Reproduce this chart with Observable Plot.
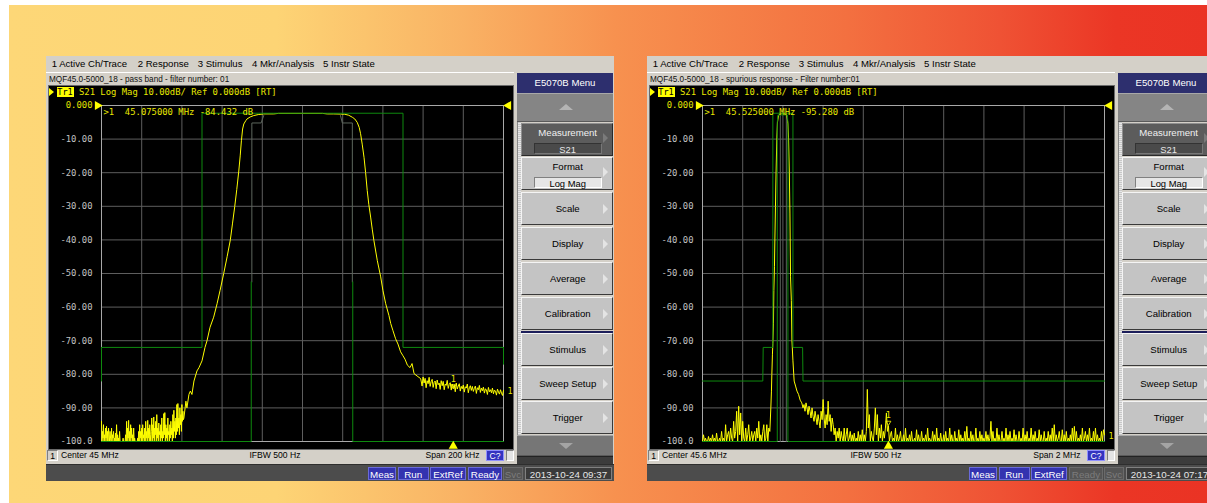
<!DOCTYPE html>
<html><head><meta charset="utf-8">
<script src="https://cdn.jsdelivr.net/npm/d3@7"></script>
<script src="https://cdn.jsdelivr.net/npm/@observablehq/plot@0.6"></script>
<style>
html,body{margin:0;padding:0;background:#fff;width:1207px;height:503px;overflow:hidden;position:relative;font-family:"Liberation Sans",Arial,sans-serif;}
#bg{position:absolute;left:9px;top:5px;width:1198px;height:498px;background:linear-gradient(to right,#FDD777 0px,#FDD475 268px,#F9B264 453px,#F7914F 607px,#F37040 838px,#EF5234 991px,#EB3625 1107px,#EA3324 1198px);}
.panel{position:absolute;top:56px;width:568px;height:425px;background:#D4D0C8;overflow:hidden;color:#000;}
.menubar{position:absolute;left:0;top:0;width:568px;height:16px;font-size:9.6px;line-height:16px;}
.menubar span{position:absolute;top:0;white-space:nowrap;}
.title{position:absolute;left:0;top:16px;width:468px;height:13px;border-top:1px solid #fff;font-size:8.2px;line-height:13px;padding-left:3px;box-sizing:border-box;white-space:nowrap;color:#111;}
.screen{position:absolute;left:3px;top:30px;width:464px;height:363px;background:#000;outline:1px solid #6a6a6a;}
.screen svg{position:absolute;left:0;top:0;}
.hdr{position:absolute;left:0;top:0;height:12px;font-family:"DejaVu Sans Mono",monospace;font-size:8.9px;line-height:12px;color:#e8e800;white-space:pre;}
.hdr .tri{position:absolute;left:0;top:2px;width:0;height:0;border-top:4.5px solid transparent;border-bottom:4.5px solid transparent;border-left:5px solid #ffff00;}
.hdr .tr{position:absolute;left:7.5px;top:1px;width:17px;height:10px;background:#ffff00;color:#000;font-size:8.6px;line-height:10px;text-align:center;}
.hdr .txt{position:absolute;left:30px;top:0;}
.status{position:absolute;left:0;top:393px;width:468px;height:13px;font-size:8.6px;line-height:13px;white-space:nowrap;}
.status span{position:absolute;top:0;}
.status .box{top:1px;height:11px;line-height:11px;border:1px solid #808080;border-right-color:#fff;border-bottom-color:#fff;box-sizing:border-box;text-align:center;}
.status .cq{background:#3434c0;color:#fff;border:1px solid #9090ff;}
.sk-head{position:absolute;left:470.7px;top:17.3px;width:96.6px;height:20px;background:#2d2f6e;color:#fff;font-size:9.6px;line-height:20px;text-align:center;}
.sk-arrow{position:absolute;left:470.7px;width:96.6px;background:#858585;border-top:1px solid #a8a8a8;border-bottom:1px solid #5a5a5a;box-sizing:border-box;}
.sk-arrow i{position:absolute;left:42px;width:0;height:0;border-left:7px solid transparent;border-right:7px solid transparent;}
.sk-strip{position:absolute;left:470.7px;top:65.7px;width:4px;height:334px;background:repeating-linear-gradient(#c8c8c8 0 1px,#e8e8e8 1px 2px);border-left:1px solid #888;box-sizing:border-box;}
.sk{position:absolute;left:474.7px;width:92.6px;height:33px;background:#c4c4c4;border-top:1px solid #f4f4f4;border-left:1px solid #f4f4f4;border-bottom:1px solid #3a3a3a;border-right:1px solid #3a3a3a;box-sizing:border-box;font-size:9.6px;text-align:center;color:#000;}
.sk.sel{background:#5c5c5c;color:#f0f0f0;border-top-color:#909090;border-left-color:#909090;border-bottom-color:#2a2a2a;border-right-color:#2a2a2a;}
.sk .lab{position:absolute;left:0;width:84px;text-align:center;white-space:nowrap;}
.sk .val{position:absolute;left:12px;width:68px;height:11px;top:19px;font-size:9.4px;line-height:11px;border:1px solid #808080;border-bottom-color:#fff;border-right-color:#fff;box-sizing:border-box;}
.sk .ar{position:absolute;right:4px;width:0;height:0;border-top:5px solid transparent;border-bottom:5px solid transparent;border-left:5px solid #e4e4e4;}
.sk.sel .ar{border-left-color:#7a7a7a;}
.sk-sep{position:absolute;left:474.7px;top:275.2px;width:92.6px;height:2px;background:#1c1e5a;}
.sk-dark{position:absolute;left:470.7px;top:400px;width:96.6px;height:8px;background:#3c3c3c;border-top:1px solid #222;box-sizing:border-box;}
.bottombar{position:absolute;left:0;top:408px;width:568px;height:17px;background:#4c4c4c;border-top:1px solid #2e2e2e;box-sizing:border-box;font-size:9.8px;}
.bottombar span{position:absolute;top:2px;height:13px;line-height:13px;text-align:center;box-sizing:border-box;white-space:nowrap;}
.bottombar .on{background:#3333b0;color:#fff;border:1px solid #6a6ad8;}
.bottombar .off{background:#555;color:#7c7c7c;border:1px solid #6a6a6a;}
.bottombar .date{background:#3a3a3a;color:#e6e6e6;border:1px solid #808080;}
</style>
</head><body>
<div id="bg"></div>
<script>
// ---------- shared screen data ----------
const yTicks = [0, -10, -20, -30, -40, -50, -60, -70, -80, -90, -100];
const yTickLabels = ["0.000", "-10.00", "-20.00", "-30.00", "-40.00", "-50.00", "-60.00", "-70.00", "-80.00", "-90.00", "-100.0"];
const menuItems = ["1 Active Ch/Trace", "2 Response", "3 Stimulus", "4 Mkr/Analysis", "5 Instr State"];
const softkeys = ["Measurement", "Format", "Scale", "Display", "Average", "Calibration", "Stimulus", "Sweep Setup", "Trigger"];
const softkeyValues = ["S21", "Log Mag"];
const traceHeader = "S21 Log Mag 10.00dB/ Ref 0.000dB [RT]";
const statusButtons = ["Meas", "Run", "ExtRef", "Ready", "Svc"];

// ---------- left screen: pass band (center 45 MHz, span 200 kHz), x in kHz from center ----------
const leftTitle = "MQF45.0-5000_18 - pass band - filter number: 01";
const leftCenter = "Center 45 MHz";
const leftSpan = "Span 200 kHz";
const leftDate = "2013-10-24 09:37";
const leftReadout = ">1  45.075000 MHz -84.432 dB";
const leftXTicks = [-100, -80, -60, -40, -20, 0, 20, 40, 60, 80, 100];
const leftNoiseLowStep = 0.25;
const leftNoiseLowStart = -100;
const leftNoiseLow = [
  -94, -100, -97, -99, -95, -100, -98, -100, -96, -99,
  -95.5, -100, -97, -100, -96, -98, -100, -97, -99, -100,
  -96, -100, -98, -99, -97, -100, -99, -100, -97.5, -100,
  -95, -100, -98, -100, -99, -100, -97, -100, -100, -100,
  -100, -100, -100, -99, -100, -100, -100, -100, -98, -100,
  -94, -100, -96, -99, -93.7, -100, -97, -100, -95, -99,
  -96, -100, -98, -100, -96, -100, -99, -100, -100, -100,
  -100, -100, -99, -100, -97, -100, -95, -99, -97, -100,
  -96, -100, -95, -99, -98, -100, -96, -100, -94, -99,
  -97, -100, -93.7, -99, -96, -100, -95, -98, -100, -97,
  -93, -100, -95, -99, -92.7, -100, -96, -98, -94, -100,
  -92, -99, -96, -100, -94.5, -98, -97, -100, -95, -99,
  -93, -100, -97, -99, -91.7, -98, -91.4, -100, -95, -99,
  -96, -100, -93, -98, -97, -100, -95, -99, -94, -98,
  -96, -100, -92, -99, -90.7, -97, -94, -99, -93, -98,
  -89, -97, -88.7, -96, -93, -98, -90, -95, -92, -97,
  -89, -94, -91, -93.5
];
const leftCurve = [
  [-59, -93], [-58, -88], [-57.5, -90], [-56.5, -86], [-55.8, -85], [-55, -86], [-54, -82],
  [-52.5, -79], [-51.5, -78], [-50, -76], [-48.5, -72], [-47.5, -70], [-46, -66], [-44.2, -63],
  [-42.5, -59], [-41, -55], [-39.2, -50], [-37.5, -45], [-35.9, -40], [-34.8, -35], [-33.7, -30],
  [-32.7, -25], [-31.7, -19.5], [-31, -15], [-30.4, -10.5], [-29.8, -7], [-29.2, -5.5],
  [-28.2, -4.5], [-27.6, -4], [-26, -3.4], [-24.3, -3], [-22, -2.7], [-19.3, -2.5], [-14.3, -2.5],
  [-12, -2.35], [0, -2.35], [10, -2.35], [12.3, -2.5], [15.3, -2.5], [18.9, -2.55], [21, -2.6],
  [23, -2.9], [24.8, -3.5], [26, -4], [27.2, -5], [28.2, -6.5], [28.9, -8.4], [29.7, -11.5],
  [30.6, -15.4], [31.4, -20], [32.2, -25.3], [33, -29.5], [33.9, -33.2], [34.7, -36.8],
  [35.5, -40.1], [37.2, -46.1], [38.9, -51], [40, -55], [41.4, -59], [43, -62.5], [43.9, -64.9],
  [45, -67], [46.3, -69.4], [47.5, -71], [48.8, -73.3], [50, -74.5], [51, -75.5], [52.2, -77.3],
  [53.5, -78], [54.5, -76.8], [55.5, -79.8], [57, -80.5], [58.8, -81.3]
];
const leftNoiseHighStep = 0.5;
const leftNoiseHighStart = 59.5;
const leftNoiseHigh = [
  -83.5, -80.8, -82.6, -81.2, -84.0, -81.9, -82.8, -80.9, -83.6, -82.2,
  -81.5, -83.9, -82.4, -82.0, -84.3, -81.7, -83.1, -82.6, -84.5, -81.9,
  -83.4, -82.1, -84.6, -82.9, -83.3, -81.8, -84.2, -83.0, -82.5, -84.7,
  -82.9, -84.0, -83.1, -85.2, -82.6, -84.4, -83.5, -82.8, -85.0, -83.6,
  -84.3, -83.2, -85.3, -83.7, -84.1, -82.9, -85.5, -84.0, -83.4, -84.8,
  -83.6, -85.1, -84.2, -83.5, -85.7, -84.0, -84.6, -83.3, -85.4, -84.1,
  -84.9, -83.8, -85.6, -84.3, -84.7, -86.0, -83.9, -85.2, -84.6, -85.5,
  -84.1, -85.8, -84.7, -85.0, -86.2, -84.4, -85.3, -85.9, -84.6, -85.6,
  -86.3, -84.8
];
const leftMarker = [75, -84.432];
const leftLimitGreen = [
  [[-100, -72], [-50, -72], [-50, -2.3], [50, -2.3], [50, -72], [100, -72]],
  [[-100, -72], [-100, -82]],
  [[100, -72], [100, -77]],
  [[-100, -100], [-25.5, -100], [-25.5, -52.5]],
  [[25, -52.5], [25, -100], [100, -100]]
];
const leftLimitDim = [
  [[-25.2, -52.5], [-25.2, -5.2], [-20.6, -5.2], [-19.3, -3]],
  [[18.9, -3], [19.8, -5.2], [24.8, -5.2], [24.8, -52.5]]
];

// ---------- right screen: spurious response (center 45.6 MHz, span 2 MHz), x in MHz ----------
const rightTitle = "MQF45.0-5000_18 - spurious response - Filter number:01";
const rightCenter = "Center 45.6 MHz";
const rightSpan = "Span 2 MHz";
const rightDate = "2013-10-24 07:17";
const rightReadout = ">1  45.525000 MHz -95.280 dB";
const rightXTicks = [44.6, 44.8, 45.0, 45.2, 45.4, 45.6, 45.8, 46.0, 46.2, 46.4, 46.6];
const rightNoiseStep = 0.005;
const rightNoiseLowStart = 44.600;
const rightNoiseLow = [
  -100, -98, -100, -99, -100, -100, -98.5, -100, -99, -100,
  -98, -100, -99, -100, -97.5, -100, -100, -99, -100, -97,
  -100, -99, -100, -95, -100, -98, -97, -100, -96, -99,
  -100, -94, -99, -97, -91, -100, -89.5, -98, -91.5, -100,
  -94, -99, -100, -96, -100, -98, -95, -100, -99, -97,
  -100, -98, -97, -100, -96, -99, -94, -100, -98, -100,
  -97, -95, -100, -99, -95, -100, -96
];
const rightCurve = [
  [44.935, -97], [44.940, -90], [44.943, -85], [44.945, -80], [44.948, -74], [44.950, -70.8],
  [44.953, -65], [44.955, -55], [44.958, -48], [44.960, -40], [44.963, -30], [44.966, -20],
  [44.970, -9.4], [44.973, -5], [44.978, -3], [44.985, -2.6], [44.995, -2.4], [45.010, -2.5],
  [45.020, -3], [45.025, -5.5], [45.028, -9.4], [45.032, -20], [45.035, -32], [45.038, -51],
  [45.042, -58], [45.045, -70], [45.050, -76], [45.056, -82], [45.063, -83.5], [45.070, -85],
  [45.078, -86], [45.086, -87.7], [45.094, -88.5], [45.100, -90]
];
const rightNoiseHighStart = 45.105;
const rightNoiseHigh = [
  -89, -91, -88.5, -90, -92, -89.5, -91, -93, -90, -92.5, -94, -91, -93, -95, -92, -94, -96, -91, -93.5, -87.5,
  -93, -96, -92, -95, -88, -94, -92, -97, -93, -95, -98, -96, -100, -97, -99, -96, -100, -97, -99, -100,
  -96, -100, -98, -96, -100, -99, -97, -100, -98, -100, -97.5, -100, -99, -100, -97, -100, -98, -100, -96.5, -100,
  -98, -100, -97, -84.5, -96, -92, -100, -97, -99, -100, -96, -90, -98, -92, -100, -96, -99, -95, -100, -97,
  -99, -96, -91.5, -97, -95.3, -100, -98, -97, -100, -99, -100, -96, -100, -98, -100, -99, -97, -100, -100, -98,
  -100, -96, -100, -99, -100, -98, -100, -97, -100, -100, -99, -100, -96.5, -100, -98, -100, -100, -97, -100, -99,
  -100, -98, -100, -96, -100, -99, -100, -100, -97, -100, -98, -100, -96, -100, -99, -100, -97.5, -100, -100, -98,
  -100, -97, -100, -99, -100, -96, -100, -98, -100, -100, -97, -100, -99, -100, -96.5, -100, -98, -100, -99, -100,
  -97, -100, -95.5, -100, -99, -100, -97, -100, -98, -100, -100, -96, -100, -99, -100, -97, -100, -98, -100, -99,
  -100, -97, -100, -98, -100, -99, -94, -100, -97, -100, -99, -100, -96, -100, -98, -100, -100, -97, -100, -99,
  -100, -96, -100, -98, -100, -97, -100, -99, -100, -96.5, -100, -98, -100, -100, -97, -100, -99, -100, -96, -100,
  -98, -100, -97, -100, -99, -100, -96, -100, -98, -100, -97, -100, -99, -100, -96.5, -100, -98, -100, -100, -97,
  -100, -99, -100, -97, -100, -98, -100, -96, -100, -95, -100, -98, -100, -99, -97, -100, -100, -96.5, -100, -98,
  -100, -97, -100, -99, -100, -98, -100, -96, -100, -95.5, -100, -97, -100, -99, -100, -98, -100, -96, -100, -99,
  -97, -100, -98, -100, -96, -100, -99, -100, -97, -100, -96, -100, -98, -100, -99, -100, -97, -100, -96.5, -98
];
const rightMarker = [45.525, -95.28];
const rightLimitGreen = [
  [[44.6, -82], [44.9, -82], [44.902, -72], [44.95, -72], [44.95, -2.3], [45.05, -2.3], [45.05, -72], [45.098, -72], [45.1, -82], [46.6, -82]],
  [[44.6, -100], [44.972, -100], [44.972, -5], [44.975, -2.8], [45.022, -2.8], [45.025, -5], [45.025, -100], [46.6, -100]]
];
const rightLimitDim = [
  [[44.987, -3], [44.987, -100]],
  [[45.017, -3], [45.017, -100]]
];

function buildTrace(lowStart, lowStep, low, curve, highStart, highStep, high) {
  return [
    ...low.map((v, i) => ({x: lowStart + i * lowStep, y: v})),
    ...curve.map(([x, y]) => ({x, y})),
    ...high.map((v, i) => ({x: highStart + i * highStep, y: v}))
  ];
}

const mono = "DejaVu Sans Mono";
function screenChart(cfg) {
  const trace = cfg.trace;
  const last = trace[trace.length - 1];
  const mk = {x: cfg.marker[0], y: cfg.marker[1]};
  return Plot.plot({
    width: 464, height: 363,
    marginLeft: 52, marginTop: 19, marginRight: 10, marginBottom: 8,
    style: {background: "#000", color: "#c0c0c0", fontFamily: mono, fontSize: "8.9px", overflow: "visible"},
    x: {domain: cfg.xDomain, axis: null},
    y: {domain: [-100, 0], axis: null},
    marks: [
      Plot.gridX({ticks: cfg.xTicks, stroke: "#5e5e5e", strokeOpacity: 1}),
      Plot.gridY({ticks: yTicks, stroke: "#5e5e5e", strokeOpacity: 1}),
      Plot.frame({stroke: "#a8a8a8"}),
      Plot.axisY({ticks: yTicks.slice(1), tickSize: 0, tickPadding: 9, label: null,
        tickFormat: d => yTickLabels[yTicks.indexOf(d)], fill: "#c4c4c4", fontFamily: mono, fontSize: 8.9}),
      Plot.axisY({ticks: [0], tickSize: 0, tickPadding: 9, label: null,
        tickFormat: d => yTickLabels[yTicks.indexOf(d)], fill: "#e2e200", fontFamily: mono, fontSize: 8.9}),
      ...cfg.dim.map(seg => Plot.line(seg, {x: d => d[0], y: d => d[1], stroke: "#5d675d", strokeWidth: 1})),
      Plot.line(trace, {x: "x", y: "y", stroke: "#ffff00", strokeWidth: 1}),
      ...cfg.green.map(seg => Plot.line(seg, {x: d => d[0], y: d => d[1], stroke: "#0e8a0e", strokeWidth: 1})),
      // reference-level arrows
      Plot.dot([0], {x: () => cfg.xDomain[0], y: () => 0, symbol: "triangle", r: 3.4, rotate: 90, dx: -4, fill: "#ffff00", stroke: null}),
      Plot.dot([0], {x: () => cfg.xDomain[1], y: () => 0, symbol: "triangle", r: 3.4, rotate: -90, dx: 5, fill: "#ffff00", stroke: null}),
      // marker stimulus arrow and marker
      Plot.dot([mk], {x: "x", y: () => -100, symbol: "triangle", r: 3.4, dy: 4.5, fill: "#ffff00", stroke: null}),
      Plot.dot([mk], {x: "x", y: "y", symbol: "triangle", r: 1.8, rotate: 180, dy: -3, fill: "none", stroke: "#ffff00", strokeWidth: 0.8}),
      Plot.text([mk], {x: "x", y: "y", text: () => "1", dy: -10, fill: "#e8e800", fontFamily: mono, fontSize: 8.5}),
      Plot.text([last], {x: "x", y: "y", text: () => "1", dx: 4, dy: 1, textAnchor: "start", fill: "#e8e800", fontFamily: mono, fontSize: 8.5}),
      Plot.text([cfg.readout], {text: d => d.replace("  ", "\u00a0 "), frameAnchor: "top-left", dx: 2, dy: 7,
        lineAnchor: "middle", textAnchor: "start", fill: "#e8e800", fontFamily: mono, fontSize: 8.9})
    ]
  });
}

function el(tag, cls, parent, text) {
  const e = document.createElement(tag);
  if (cls) e.className = cls;
  if (text !== undefined) e.textContent = text;
  if (parent) parent.appendChild(e);
  return e;
}

function buildPanel(left, cfg) {
  const p = el("div", "panel", document.body);
  p.style.left = left + "px";
  const mb = el("div", "menubar", p);
  const menuX = [5.7, 91.7, 151.7, 206, 277];
  menuItems.forEach((t, i) => { const s = el("span", "", mb, t); s.style.left = menuX[i] + "px"; });
  el("div", "title", p, cfg.title);
  const scr = el("div", "screen", p);
  scr.appendChild(screenChart(cfg));
  const hdr = el("div", "hdr", scr);
  el("span", "tri", hdr);
  el("span", "tr", hdr, "Tr1");
  el("span", "txt", hdr, traceHeader);
  // status line
  const st = el("div", "status", p);
  let s = el("span", "box", st, "1"); s.style.left = "1.4px"; s.style.width = "10.4px";
  s = el("span", "", st, cfg.center); s.style.left = "15px";
  s = el("span", "", st, "IFBW 500 Hz"); s.style.left = "179px"; s.style.width = "100px"; s.style.textAlign = "center";
  s = el("span", "", st, cfg.span); s.style.right = "34.5px";
  s = el("span", "box cq", st, "C?"); s.style.left = "439.8px"; s.style.width = "18.5px";
  s = el("span", "box", st, ""); s.style.left = "460px"; s.style.width = "7.5px"; s.style.background = "#e4e4e4";
  // softkeys
  el("div", "sk-head", p, "E5070B Menu");
  let up = el("div", "sk-arrow", p); up.style.top = "37.3px"; up.style.height = "28.4px";
  let ui = el("i", "", up); ui.style.top = "10px"; ui.style.borderBottom = "6px solid #b4b4b4";
  el("div", "sk-strip", p);
  const tops = [66.7, 101.3, 135.7, 170.7, 205.7, 240.7, 277.3, 310.7, 344.7];
  softkeys.forEach((t, i) => {
    const b = el("div", "sk" + (i === 0 ? " sel" : ""), p);
    b.style.top = tops[i] + "px";
    const lab = el("span", "lab", b, t);
    if (i < 2) {
      lab.style.top = "3px"; lab.style.left = "4px"; lab.style.width = "84px";
      const v = el("span", "val", b, softkeyValues[i]);
      if (i === 0) { v.style.background = "#4a4a4a"; v.style.color = "#e8e8e8"; v.style.borderColor = "#333"; v.style.borderBottomColor = "#777"; v.style.borderRightColor = "#777"; }
      else { v.style.background = "#e6e6e6"; }
    } else {
      lab.style.top = "10px"; lab.style.left = "4px";
    }
    const a = el("span", "ar", b); a.style.top = (i < 2 ? 9 : 11) + "px";
  });
  el("div", "sk-sep", p);
  let dn = el("div", "sk-arrow", p); dn.style.top = "379px"; dn.style.height = "21px"; dn.style.background = "#767676";
  let di = el("i", "", dn); di.style.top = "7px"; di.style.borderTop = "6px solid #a4a4a4";
  el("div", "sk-dark", p);
  // bottom bar
  const bb = el("div", "bottombar", p);
  const bx = [[322, 28], [352, 30.5], [384, 36], [422, 34], [457, 20]];
  statusButtons.forEach((t, i) => {
    const on = !(t === "Svc" || (t === "Ready" && !cfg.ready));
    const b = el("span", on ? "on" : "off", bb, t);
    b.style.left = bx[i][0] + "px"; b.style.width = bx[i][1] + "px";
  });
  const d = el("span", "date", bb, cfg.date); d.style.left = "479px"; d.style.width = "87px";
}

buildPanel(46, {
  title: leftTitle, center: leftCenter, span: leftSpan, date: leftDate, ready: true, readout: leftReadout,
  xDomain: [-100, 100], xTicks: leftXTicks, marker: leftMarker, green: leftLimitGreen, dim: leftLimitDim,
  trace: buildTrace(leftNoiseLowStart, leftNoiseLowStep, leftNoiseLow, leftCurve, leftNoiseHighStart, leftNoiseHighStep, leftNoiseHigh)
});
buildPanel(647, {
  title: rightTitle, center: rightCenter, span: rightSpan, date: rightDate, ready: false, readout: rightReadout,
  xDomain: [44.6, 46.6], xTicks: rightXTicks, marker: rightMarker, green: rightLimitGreen, dim: rightLimitDim,
  trace: buildTrace(rightNoiseLowStart, rightNoiseStep, rightNoiseLow, rightCurve, rightNoiseHighStart, rightNoiseStep, rightNoiseHigh)
});
</script>
</body></html>
